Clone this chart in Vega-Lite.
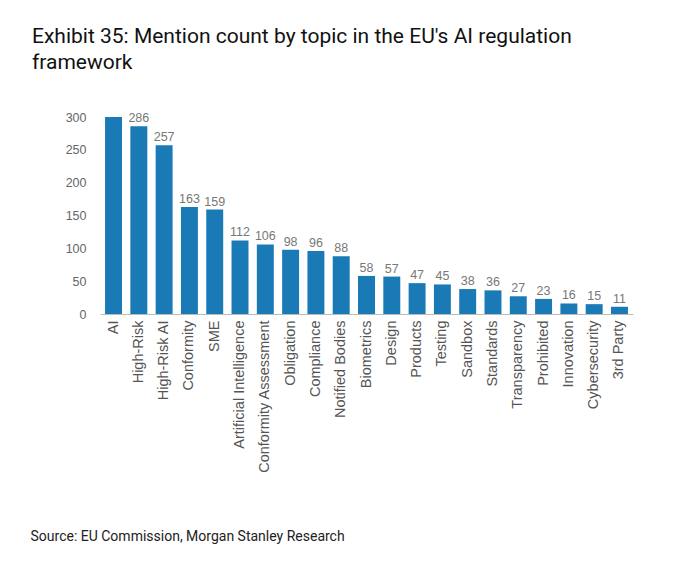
{"$schema":"https://vega.github.io/schema/vega-lite/v6.json","width":533,"height":197,"padding":{"left":30,"top":26,"right":20,"bottom":10},"background":"white","config":{"view":{"stroke":null}},
"title":{"text":["Exhibit 35:  Mention count by topic in the EU's AI regulation","framework"],"anchor":"start","frame":"group","dx":-68,"font":"Roboto","fontSize":21,"fontWeight":"normal","color":"#111","offset":30,"lineHeight":26},
"data":{"values":[
{"t":"AI","v":300,"l":""},{"t":"High-Risk","v":286,"l":"286"},{"t":"High-Risk AI","v":257,"l":"257"},{"t":"Conformity","v":163,"l":"163"},{"t":"SME","v":159,"l":"159"},{"t":"Artificial Intelligence","v":112,"l":"112"},{"t":"Conformity Assessment","v":106,"l":"106"},{"t":"Obligation","v":98,"l":"98"},{"t":"Compliance","v":96,"l":"96"},{"t":"Notified Bodies","v":88,"l":"88"},{"t":"Biometrics","v":58,"l":"58"},{"t":"Design","v":57,"l":"57"},{"t":"Products","v":47,"l":"47"},{"t":"Testing","v":45,"l":"45"},{"t":"Sandbox","v":38,"l":"38"},{"t":"Standards","v":36,"l":"36"},{"t":"Transparency","v":27,"l":"27"},{"t":"Prohibited","v":23,"l":"23"},{"t":"Innovation","v":16,"l":"16"},{"t":"Cybersecurity","v":15,"l":"15"},{"t":"3rd Party","v":11,"l":"11"}]},
"encoding":{"x":{"field":"t","type":"nominal","sort":null,"scale":{"paddingInner":0.33,"paddingOuter":0.2},"axis":{"title":"Source: EU Commission, Morgan Stanley Research","titleAnchor":"start","titleX":-70,"titleY":215,"titleFont":"Roboto","titleFontWeight":"normal","titleFontSize":14,"titleColor":"#222","labelAngle":-90,"labelFont":"Arial","labelFontSize":14.5,"labelColor":"#555","ticks":false,"domainColor":"#bbb","labelPadding":6}},
"y":{"field":"v","type":"quantitative","scale":{"domain":[0,300]},"axis":{"title":null,"values":[0,50,100,150,200,250,300],"grid":false,"domain":false,"ticks":false,"labelFont":"Arial","labelFontSize":12.5,"labelColor":"#666","labelPadding":14}}},
"layer":[{"mark":{"type":"bar","color":"#1a7ab5"}},
{"mark":{"type":"text","dy":-8,"font":"Arial","fontSize":12.5,"color":"#777"},"encoding":{"text":{"field":"l"}}}]}
